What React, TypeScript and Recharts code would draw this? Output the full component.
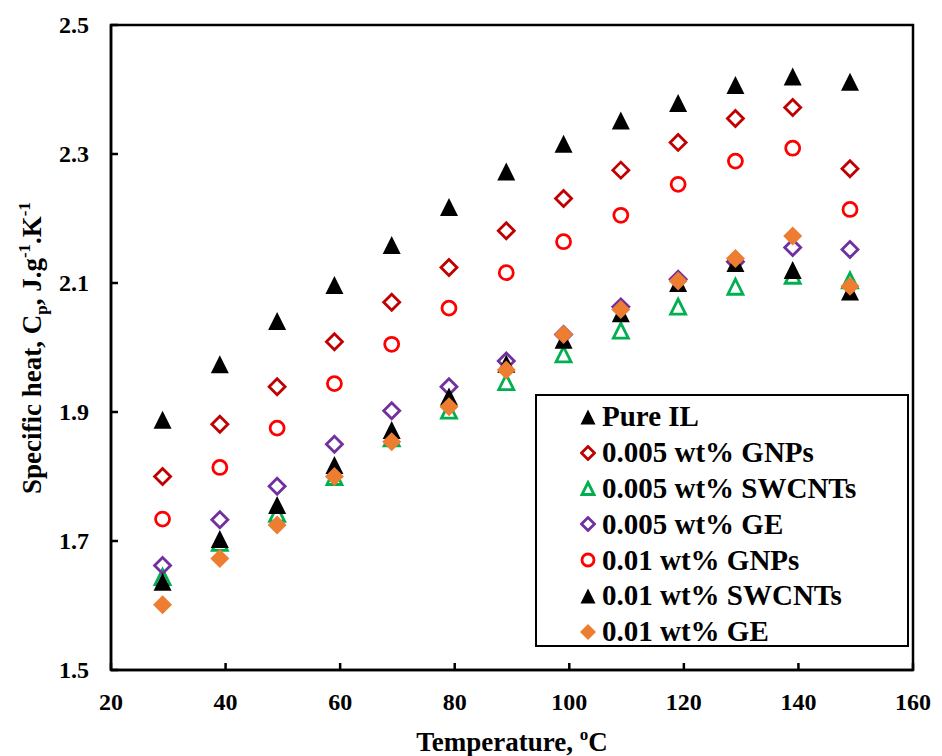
import React from 'react'
import { ScatterChart, Scatter, XAxis, YAxis, Legend, ReferenceArea } from 'recharts'

const temps = [29, 39, 49, 59, 69, 79, 89, 99, 109, 119, 129, 139, 149]
const pureIL = [1.888, 1.974, 2.041, 2.097, 2.159, 2.218, 2.273, 2.316, 2.352, 2.379, 2.407, 2.42, 2.412]
const gnp005 = [1.8, 1.881, 1.939, 2.009, 2.07, 2.124, 2.181, 2.231, 2.275, 2.318, 2.355, 2.372, 2.277]
const swcnt005 = [1.645, 1.698, 1.743, 1.8, 1.86, 1.903, 1.947, 1.99, 2.027, 2.064, 2.095, 2.112, 2.105]
const ge005 = [1.662, 1.733, 1.785, 1.85, 1.902, 1.939, 1.979, 2.02, 2.063, 2.106, 2.133, 2.155, 2.152]
const gnp01 = [1.734, 1.814, 1.875, 1.944, 2.005, 2.061, 2.116, 2.164, 2.205, 2.253, 2.289, 2.309, 2.214]
const swcnt01 = [1.637, 1.703, 1.756, 1.818, 1.872, 1.924, 1.975, 2.012, 2.053, 2.1, 2.131, 2.12, 2.087]
const ge01 = [1.601, 1.673, 1.725, 1.8, 1.854, 1.908, 1.965, 2.02, 2.059, 2.103, 2.138, 2.173, 2.095]

const xTicks = [20, 40, 60, 80, 100, 120, 140, 160]
const yTicks = [1.5, 1.7, 1.9, 2.1, 2.3, 2.5]

const FONT = '"Liberation Serif", "Times New Roman", serif'

type Kind = 'triFill' | 'triOpen' | 'diaOpen' | 'diaFill' | 'circle'

const drawMarker = (kind: Kind, color: string, cx: number, cy: number, s: number) => {
  const h = s / 2
  if (kind === 'triFill' || kind === 'triOpen') {
    const pts = `${cx},${cy - h} ${cx + h},${cy + h} ${cx - h},${cy + h}`
    return kind === 'triFill'
      ? <polygon points={pts} fill={color} />
      : <polygon points={`${cx},${cy - h + 2} ${cx + h - 1.5},${cy + h - 1} ${cx - h + 1.5},${cy + h - 1}`} fill="none" stroke={color} strokeWidth={2.8} />
  }
  if (kind === 'diaOpen' || kind === 'diaFill') {
    const r = kind === 'diaFill' ? h + 0.5 : h - 1
    const pts = `${cx},${cy - r} ${cx + r},${cy} ${cx},${cy + r} ${cx - r},${cy}`
    return kind === 'diaFill'
      ? <polygon points={pts} fill={color} />
      : <polygon points={pts} fill="none" stroke={color} strokeWidth={2.8} />
  }
  return <circle cx={cx} cy={cy} r={h - 1.5} fill="none" stroke={color} strokeWidth={2.8} />
}

const seriesList: { name: string; values: number[]; kind: Kind; color: string }[] = [
  { name: 'Pure IL', values: pureIL, kind: 'triFill', color: '#000000' },
  { name: '0.005 wt% GNPs', values: gnp005, kind: 'diaOpen', color: '#C00000' },
  { name: '0.005 wt% SWCNTs', values: swcnt005, kind: 'triOpen', color: '#00B050' },
  { name: '0.005 wt% GE', values: ge005, kind: 'diaOpen', color: '#7030A0' },
  { name: '0.01 wt% GNPs', values: gnp01, kind: 'circle', color: '#FF0000' },
  { name: '0.01 wt% SWCNTs', values: swcnt01, kind: 'triFill', color: '#000000' },
  { name: '0.01 wt% GE', values: ge01, kind: 'diaFill', color: '#ED7D31' },
]

const renderXTick = (props: any) => {
  const { x, y, payload } = props
  return (
    <g>
      <line x1={x} y1={y} x2={x} y2={y - 7} stroke="#000" strokeWidth={2.5} />
      <text x={x} y={y + 40} textAnchor="middle" fontFamily={FONT} fontWeight="bold" fontSize={24} fill="#000">
        {payload.value}
      </text>
    </g>
  )
}

const renderYTick = (props: any) => {
  const { x, y, payload } = props
  return (
    <g>
      <line x1={x} y1={y} x2={x + 7} y2={y} stroke="#000" strokeWidth={2.5} />
      <text x={x - 22} y={y + 8} textAnchor="end" fontFamily={FONT} fontWeight="bold" fontSize={24} fill="#000">
        {Number(payload.value).toFixed(1)}
      </text>
    </g>
  )
}

const renderLegend = () => (
  <div style={{ border: '2px solid #000', background: '#fff', boxSizing: 'border-box', width: 374, height: 253, paddingTop: 3 }}>
    {seriesList.map((s) => (
      <div key={s.name} style={{ display: 'flex', alignItems: 'center', height: 35.8, paddingLeft: 43 }}>
        <svg width={16} height={16} style={{ marginRight: 6 }}>
          {drawMarker(s.kind, s.color, 8, 8, 15)}
        </svg>
        <span style={{ fontFamily: FONT, fontWeight: 'bold', fontSize: 29, color: '#000', lineHeight: 1 }}>{s.name}</span>
      </div>
    ))}
  </div>
)

const XTitle = () => (
  <text x={512} y={751} textAnchor="middle" fontFamily={FONT} fontWeight="bold" fontSize={27} fill="#000">
    Temperature, <tspan fontSize={17} dy={-11}>o</tspan><tspan dy={11}>C</tspan>
  </text>
)

const YTitle = () => (
  <text x={0} y={0} transform="translate(41,348) rotate(-90)" textAnchor="middle" fontFamily={FONT} fontWeight="bold" fontSize={27} fill="#000">
    Specific heat, C<tspan fontSize={17} dy={6}>p</tspan><tspan dy={-6}>, J.g</tspan>
    <tspan fontSize={17} dy={-11}>-1</tspan><tspan dy={11}>.K</tspan>
    <tspan fontSize={17} dy={-11}>-1</tspan>
  </text>
)

export default function App() {
  return (
    <div style={{ position: 'absolute', left: 0, top: 0, background: '#fff' }}>
      <ScatterChart width={942} height={756} margin={{ top: 25, right: 29, bottom: 0, left: 0 }}>
        <XAxis
          type="number"
          dataKey="t"
          domain={[20, 160]}
          ticks={xTicks}
          interval={0}
          height={86}
          tickSize={0}
          tickMargin={0}
          tickLine={false}
          tick={renderXTick}
          axisLine={{ stroke: '#000', strokeWidth: 2.5 }}
          label={{ content: () => <XTitle /> }}
        />
        <YAxis
          type="number"
          dataKey="v"
          domain={[1.5, 2.5]}
          ticks={yTicks}
          interval={0}
          width={111}
          tickSize={0}
          tickMargin={0}
          tickLine={false}
          tick={renderYTick}
          axisLine={{ stroke: '#000', strokeWidth: 2.5 }}
          label={{ content: () => <YTitle /> }}
        />
        <ReferenceArea x1={20} x2={160} y1={1.5} y2={2.5} fill="none" stroke="#000" strokeWidth={2.5} fillOpacity={0} />
        {seriesList.map((s) => (
          <Scatter
            key={s.name}
            name={s.name}
            data={temps.map((t, i) => ({ t, v: s.values[i] }))}
            isAnimationActive={false}
            shape={(p: any) => drawMarker(s.kind, s.color, p.cx, p.cy, s.kind === 'diaFill' ? 18 : s.kind === 'circle' ? 17 : 18)}
          />
        ))}
        <Legend
          layout="vertical"
          align="center"
          verticalAlign="middle"
          content={renderLegend}
          wrapperStyle={{ position: 'absolute', left: 535, top: 394, width: 374, height: 253 }}
        />
      </ScatterChart>
    </div>
  )
}
